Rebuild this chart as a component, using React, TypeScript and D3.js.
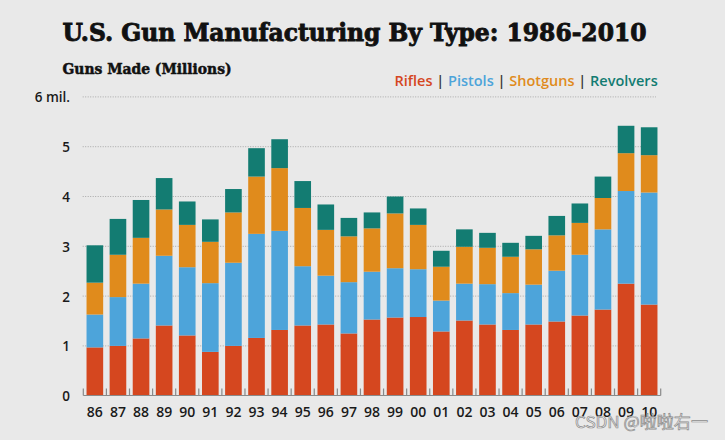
import React from "react";
import * as d3 from "d3";

const years = ["86","87","88","89","90","91","92","93","94","95","96","97","98","99","00","01","02","03","04","05","06","07","08","09","10"];
const rifles =    [0.97,1.00,1.15,1.41,1.21,0.88,1.00,1.16,1.32,1.41,1.43,1.25,1.53,1.57,1.58,1.29,1.51,1.43,1.32,1.43,1.49,1.61,1.73,2.25,1.83];
const pistols =   [0.66,0.98,1.10,1.40,1.37,1.38,1.67,2.09,1.99,1.19,0.98,1.03,0.96,0.99,0.96,0.62,0.74,0.81,0.74,0.80,1.02,1.22,1.61,1.86,2.25];
const shotguns =  [0.64,0.85,0.92,0.93,0.85,0.83,1.01,1.15,1.26,1.17,0.92,0.92,0.87,1.10,0.89,0.68,0.74,0.73,0.73,0.71,0.71,0.64,0.63,0.76,0.75];
const revolvers = [0.75,0.72,0.76,0.63,0.47,0.45,0.47,0.57,0.58,0.54,0.51,0.37,0.32,0.34,0.33,0.32,0.35,0.30,0.28,0.27,0.39,0.39,0.43,0.55,0.56];
const seriesNames = ["Rifles","Pistols","Shotguns","Revolvers"];
const seriesColors = ["#d5471f","#4da4da","#e08b1c","#137c72"];
const yTicks = [0,1,2,3,4,5,6];

export default function App() {
  const W = 725, H = 440;
  const x = d3.scaleBand<string>().domain(years).range([83.3, 660.7]).paddingInner(0.28).paddingOuter(0.14);
  const y = d3.scaleLinear().domain([0, 6]).range([395.7, 96.9]);
  const table = years.map((yr, i) => ({ year: yr, Rifles: rifles[i], Pistols: pistols[i], Shotguns: shotguns[i], Revolvers: revolvers[i] }));
  const stacked = d3.stack<any>().keys(seriesNames)(table);
  const step = x.step();
  const tickXs = d3.range(years.length + 1).map(i => 83.3 + i * step);
  const sans = "'Open Sans', sans-serif";
  return (
    <svg width={W} height={H} style={{ position: "absolute", left: 0, top: 0 }} xmlns="http://www.w3.org/2000/svg">
      <rect x={0} y={0} width={W} height={H} fill="#e9e9e9" />
      <text x={62.5} y={41} fontFamily="'DejaVu Serif', serif" fontWeight={900} fontSize={24} fill="#111" stroke="#111" strokeWidth={0.9} textLength={584} lengthAdjust="spacingAndGlyphs">U.S. Gun Manufacturing By Type: 1986-2010</text>
      <text x={62.5} y={73.5} fontFamily="'DejaVu Serif', serif" fontWeight={900} fontSize={14} fill="#111" stroke="#111" strokeWidth={0.5} textLength={169} lengthAdjust="spacingAndGlyphs">Guns Made (Millions)</text>
      <text x={657.7} y={86} textAnchor="end" fontFamily={sans} fontWeight={600} fontSize={14.5}>
        {seriesNames.map((n, i) => (
          <React.Fragment key={n}>
            {i > 0 ? <tspan fill="#333">{" | "}</tspan> : null}
            <tspan fill={seriesColors[i]}>{n}</tspan>
          </React.Fragment>
        ))}
      </text>
      {yTicks.filter(t => t > 0).map(t => (
        <line key={"g" + t} x1={82.7} x2={656} y1={y(t)} y2={y(t)} stroke="#a8a8a8" strokeWidth={1} strokeDasharray="1,1.5" />
      ))}
      {yTicks.map(t => (
        <text key={"yl" + t} x={70} y={y(t) + 5.5} textAnchor="end" fontFamily={sans} fontWeight={600} fontSize={13.5} fill="#1a1a1a">{t === 6 ? "6 mil." : String(t)}</text>
      ))}
      {stacked.map((s, si) => (
        <g key={s.key} fill={seriesColors[si]}>
          {s.map((d, i) => (
            <rect key={i} x={x(years[i])} width={x.bandwidth()} y={y(d[1])} height={y(d[0]) - y(d[1])} />
          ))}
        </g>
      ))}
      <line x1={83.3} x2={660.7} y1={395.5} y2={395.5} stroke="#8a8a8a" strokeWidth={1.2} />
      {tickXs.map((tx, i) => (
        <line key={"t" + i} x1={tx} x2={tx} y1={395.5} y2={388.5} stroke="#8a8a8a" strokeWidth={1.2} />
      ))}
      {years.map(yr => (
        <text key={"xl" + yr} x={(x(yr) as number) + x.bandwidth() / 2} y={417} textAnchor="middle" fontFamily={sans} fontWeight={600} fontSize={14} fill="#1a1a1a">{yr}</text>
      ))}
      <text x={575} y={428} fontFamily="'Noto Sans CJK SC', sans-serif" fontSize={16.5} fill="#f4f4f4" fillOpacity={0.7} stroke="#8c8c8c" strokeWidth={0.7} textLength={133} lengthAdjust="spacingAndGlyphs">CSDN @啦啦右一</text>
    </svg>
  );
}
